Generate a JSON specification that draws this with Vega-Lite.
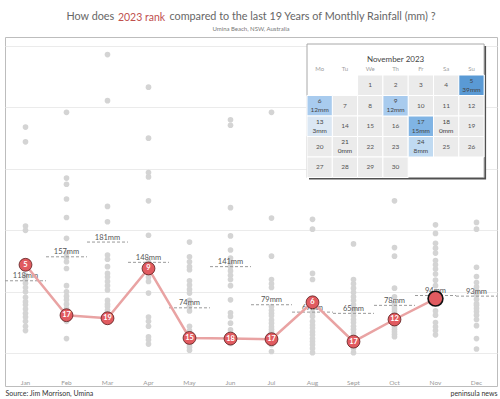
{
  "$schema": "https://vega.github.io/schema/vega-lite/v6.json",
  "autosize": {"type": "none"},
  "width": 492,
  "height": 349,
  "padding": {"left": 5, "top": 37, "right": 3, "bottom": 13},
  "background": "white",
  "config": {"font": "Lato", "view": {"stroke": "#bdbdbd", "strokeWidth": 1}},
  "title": {
    "text": "How does\u00a0\u00a0\u00a0\u00a0\u00a0\u00a0\u00a0\u00a0\u00a0\u00a0\u00a0\u00a0\u00a0\u00a0\u00a0\u00a0\u00a0\u00a0\u00a0\u00a0compared to the last 19 Years of Monthly Rainfall (mm) ?",
    "subtitle": "Umina Beach, NSW, Australia",
    "anchor": "middle",
    "fontSize": 10.8,
    "fontWeight": "normal",
    "color": "#666666",
    "subtitleFontSize": 6,
    "subtitleColor": "#777777",
    "subtitlePadding": 4,
    "offset": -20
  },
  "datasets": {
    "history": [
      {"m": "Jan", "mm": 368}, {"m": "Jan", "mm": 344}, {"m": "Jan", "mm": 207}, {"m": "Jan", "mm": 200}, {"m": "Jan", "mm": 127}, {"m": "Jan", "mm": 120}, {"m": "Jan", "mm": 114}, {"m": "Jan", "mm": 107}, {"m": "Jan", "mm": 100}, {"m": "Jan", "mm": 91}, {"m": "Jan", "mm": 84}, {"m": "Jan", "mm": 79}, {"m": "Jan", "mm": 72}, {"m": "Jan", "mm": 65}, {"m": "Jan", "mm": 59}, {"m": "Jan", "mm": 52}, {"m": "Jan", "mm": 44}, {"m": "Jan", "mm": 37},
      {"m": "Feb", "mm": 392}, {"m": "Feb", "mm": 285}, {"m": "Feb", "mm": 275}, {"m": "Feb", "mm": 251}, {"m": "Feb", "mm": 221}, {"m": "Feb", "mm": 187}, {"m": "Feb", "mm": 163}, {"m": "Feb", "mm": 156}, {"m": "Feb", "mm": 149}, {"m": "Feb", "mm": 138}, {"m": "Feb", "mm": 110}, {"m": "Feb", "mm": 100}, {"m": "Feb", "mm": 93}, {"m": "Feb", "mm": 87}, {"m": "Feb", "mm": 80}, {"m": "Feb", "mm": 73}, {"m": "Feb", "mm": 52}, {"m": "Feb", "mm": 24},
      {"m": "Mar", "mm": 486}, {"m": "Mar", "mm": 411}, {"m": "Mar", "mm": 239}, {"m": "Mar", "mm": 214}, {"m": "Mar", "mm": 160}, {"m": "Mar", "mm": 153}, {"m": "Mar", "mm": 141}, {"m": "Mar", "mm": 130}, {"m": "Mar", "mm": 124}, {"m": "Mar", "mm": 117}, {"m": "Mar", "mm": 110}, {"m": "Mar", "mm": 103}, {"m": "Mar", "mm": 86}, {"m": "Mar", "mm": 80}, {"m": "Mar", "mm": 76}, {"m": "Mar", "mm": 70}, {"m": "Mar", "mm": 66}, {"m": "Mar", "mm": 62},
      {"m": "Apr", "mm": 433}, {"m": "Apr", "mm": 350}, {"m": "Apr", "mm": 294}, {"m": "Apr", "mm": 287}, {"m": "Apr", "mm": 248}, {"m": "Apr", "mm": 192}, {"m": "Apr", "mm": 149}, {"m": "Apr", "mm": 144}, {"m": "Apr", "mm": 130}, {"m": "Apr", "mm": 124}, {"m": "Apr", "mm": 117}, {"m": "Apr", "mm": 98}, {"m": "Apr", "mm": 59}, {"m": "Apr", "mm": 52}, {"m": "Apr", "mm": 44}, {"m": "Apr", "mm": 27}, {"m": "Apr", "mm": 22}, {"m": "Apr", "mm": 15},
      {"m": "May", "mm": 181}, {"m": "May", "mm": 157}, {"m": "May", "mm": 149}, {"m": "May", "mm": 141}, {"m": "May", "mm": 136}, {"m": "May", "mm": 118}, {"m": "May", "mm": 111}, {"m": "May", "mm": 104}, {"m": "May", "mm": 98}, {"m": "May", "mm": 86}, {"m": "May", "mm": 76}, {"m": "May", "mm": 69}, {"m": "May", "mm": 44}, {"m": "May", "mm": 37}, {"m": "May", "mm": 19}, {"m": "May", "mm": 14}, {"m": "May", "mm": 10}, {"m": "May", "mm": 5},
      {"m": "Jun", "mm": 380}, {"m": "Jun", "mm": 371}, {"m": "Jun", "mm": 237}, {"m": "Jun", "mm": 191}, {"m": "Jun", "mm": 168}, {"m": "Jun", "mm": 155}, {"m": "Jun", "mm": 147}, {"m": "Jun", "mm": 141}, {"m": "Jun", "mm": 134}, {"m": "Jun", "mm": 127}, {"m": "Jun", "mm": 120}, {"m": "Jun", "mm": 110}, {"m": "Jun", "mm": 87}, {"m": "Jun", "mm": 66}, {"m": "Jun", "mm": 60}, {"m": "Jun", "mm": 49}, {"m": "Jun", "mm": 38}, {"m": "Jun", "mm": 16},
      {"m": "Jul", "mm": 392}, {"m": "Jul", "mm": 220}, {"m": "Jul", "mm": 158}, {"m": "Jul", "mm": 120}, {"m": "Jul", "mm": 113}, {"m": "Jul", "mm": 107}, {"m": "Jul", "mm": 76}, {"m": "Jul", "mm": 70}, {"m": "Jul", "mm": 65}, {"m": "Jul", "mm": 61}, {"m": "Jul", "mm": 54}, {"m": "Jul", "mm": 49}, {"m": "Jul", "mm": 43}, {"m": "Jul", "mm": 39}, {"m": "Jul", "mm": 35}, {"m": "Jul", "mm": 33}, {"m": "Jul", "mm": 14}, {"m": "Jul", "mm": 3},
      {"m": "Aug", "mm": 320}, {"m": "Aug", "mm": 218}, {"m": "Aug", "mm": 202}, {"m": "Aug", "mm": 130}, {"m": "Aug", "mm": 120}, {"m": "Aug", "mm": 73}, {"m": "Aug", "mm": 66}, {"m": "Aug", "mm": 60}, {"m": "Aug", "mm": 52}, {"m": "Aug", "mm": 46}, {"m": "Aug", "mm": 41}, {"m": "Aug", "mm": 35}, {"m": "Aug", "mm": 30}, {"m": "Aug", "mm": 24}, {"m": "Aug", "mm": 19}, {"m": "Aug", "mm": 14}, {"m": "Aug", "mm": 8}, {"m": "Aug", "mm": 1},
      {"m": "Sept", "mm": 178}, {"m": "Sept", "mm": 120}, {"m": "Sept", "mm": 113}, {"m": "Sept", "mm": 106}, {"m": "Sept", "mm": 99}, {"m": "Sept", "mm": 92}, {"m": "Sept", "mm": 86}, {"m": "Sept", "mm": 79}, {"m": "Sept", "mm": 72}, {"m": "Sept", "mm": 66}, {"m": "Sept", "mm": 61}, {"m": "Sept", "mm": 55}, {"m": "Sept", "mm": 50}, {"m": "Sept", "mm": 44}, {"m": "Sept", "mm": 39}, {"m": "Sept", "mm": 33}, {"m": "Sept", "mm": 8}, {"m": "Sept", "mm": 1},
      {"m": "Oct", "mm": 248}, {"m": "Oct", "mm": 172}, {"m": "Oct", "mm": 158}, {"m": "Oct", "mm": 106}, {"m": "Oct", "mm": 92}, {"m": "Oct", "mm": 81}, {"m": "Oct", "mm": 76}, {"m": "Oct", "mm": 72}, {"m": "Oct", "mm": 68}, {"m": "Oct", "mm": 64}, {"m": "Oct", "mm": 61}, {"m": "Oct", "mm": 52}, {"m": "Oct", "mm": 48}, {"m": "Oct", "mm": 43}, {"m": "Oct", "mm": 39}, {"m": "Oct", "mm": 35}, {"m": "Oct", "mm": 31}, {"m": "Oct", "mm": 27},
      {"m": "Nov", "mm": 209}, {"m": "Nov", "mm": 195}, {"m": "Nov", "mm": 179}, {"m": "Nov", "mm": 171}, {"m": "Nov", "mm": 163}, {"m": "Nov", "mm": 151}, {"m": "Nov", "mm": 144}, {"m": "Nov", "mm": 137}, {"m": "Nov", "mm": 129}, {"m": "Nov", "mm": 119}, {"m": "Nov", "mm": 110}, {"m": "Nov", "mm": 81}, {"m": "Nov", "mm": 69}, {"m": "Nov", "mm": 62}, {"m": "Nov", "mm": 50}, {"m": "Nov", "mm": 43}, {"m": "Nov", "mm": 37}, {"m": "Nov", "mm": 30},
      {"m": "Dec", "mm": 213}, {"m": "Dec", "mm": 202}, {"m": "Dec", "mm": 140}, {"m": "Dec", "mm": 125}, {"m": "Dec", "mm": 115}, {"m": "Dec", "mm": 108}, {"m": "Dec", "mm": 102}, {"m": "Dec", "mm": 95}, {"m": "Dec", "mm": 88}, {"m": "Dec", "mm": 81}, {"m": "Dec", "mm": 78}, {"m": "Dec", "mm": 73}, {"m": "Dec", "mm": 68}, {"m": "Dec", "mm": 62}, {"m": "Dec", "mm": 55}, {"m": "Dec", "mm": 45}, {"m": "Dec", "mm": 24}, {"m": "Dec", "mm": 7}
    ],
    "y2023": [
      {"m": "Jan", "mm": 144, "rank": 5, "partial": false},
      {"m": "Feb", "mm": 62, "rank": 17, "partial": false},
      {"m": "Mar", "mm": 57, "rank": 19, "partial": false},
      {"m": "Apr", "mm": 138, "rank": 9, "partial": false},
      {"m": "May", "mm": 25, "rank": 15, "partial": false},
      {"m": "Jun", "mm": 24, "rank": 18, "partial": false},
      {"m": "Jul", "mm": 23, "rank": 17, "partial": false},
      {"m": "Aug", "mm": 83, "rank": 6, "partial": false},
      {"m": "Sept", "mm": 19, "rank": 17, "partial": false},
      {"m": "Oct", "mm": 55, "rank": 12, "partial": false},
      {"m": "Nov", "mm": 89, "rank": null, "partial": true}
    ],
    "avg": [
      {"m": "Jan", "avg": 118, "label": "118mm"},
      {"m": "Feb", "avg": 157, "label": "157mm"},
      {"m": "Mar", "avg": 181, "label": "181mm"},
      {"m": "Apr", "avg": 148, "label": "148mm"},
      {"m": "May", "avg": 74, "label": "74mm"},
      {"m": "Jun", "avg": 141, "label": "141mm"},
      {"m": "Jul", "avg": 79, "label": "79mm"},
      {"m": "Aug", "avg": 67, "label": "67mm"},
      {"m": "Sept", "avg": 65, "label": "65mm"},
      {"m": "Oct", "avg": 78, "label": "78mm"},
      {"m": "Nov", "avg": 94, "label": "94mm"},
      {"m": "Dec", "avg": 93, "label": "93mm"}
    ],
    "calendar": [
      {"day": 1, "col": 2, "row": 0}, {"day": 2, "col": 3, "row": 0}, {"day": 3, "col": 4, "row": 0}, {"day": 4, "col": 5, "row": 0}, {"day": 5, "col": 6, "row": 0, "mm": 39},
      {"day": 6, "col": 0, "row": 1, "mm": 12}, {"day": 7, "col": 1, "row": 1}, {"day": 8, "col": 2, "row": 1}, {"day": 9, "col": 3, "row": 1, "mm": 12}, {"day": 10, "col": 4, "row": 1}, {"day": 11, "col": 5, "row": 1}, {"day": 12, "col": 6, "row": 1},
      {"day": 13, "col": 0, "row": 2, "mm": 3}, {"day": 14, "col": 1, "row": 2}, {"day": 15, "col": 2, "row": 2}, {"day": 16, "col": 3, "row": 2}, {"day": 17, "col": 4, "row": 2, "mm": 15}, {"day": 18, "col": 5, "row": 2, "mm": 0}, {"day": 19, "col": 6, "row": 2},
      {"day": 20, "col": 0, "row": 3}, {"day": 21, "col": 1, "row": 3, "mm": 0}, {"day": 22, "col": 2, "row": 3}, {"day": 23, "col": 3, "row": 3}, {"day": 24, "col": 4, "row": 3, "mm": 8}, {"day": 25, "col": 5, "row": 3}, {"day": 26, "col": 6, "row": 3},
      {"day": 27, "col": 0, "row": 4}, {"day": 28, "col": 1, "row": 4}, {"day": 29, "col": 2, "row": 4}, {"day": 30, "col": 3, "row": 4}
    ],
    "weekdays": [
      {"wd": "Mo", "col": 0}, {"wd": "Tu", "col": 1}, {"wd": "We", "col": 2}, {"wd": "Th", "col": 3}, {"wd": "Fr", "col": 4}, {"wd": "Sa", "col": 5}, {"wd": "Su", "col": 6}
    ]
  },
  "layer": [
    {
      "layer": [
        {
          "data": {"name": "history"},
          "mark": {"type": "circle", "size": 32, "color": "#d4d4d4", "opacity": 1},
          "encoding": {
            "x": {
              "field": "m", "type": "nominal",
              "scale": {"domain": ["Jan", "Feb", "Mar", "Apr", "May", "Jun", "Jul", "Aug", "Sept", "Oct", "Nov", "Dec"], "paddingInner": 0, "paddingOuter": 0},
              "axis": {
                "orient": "bottom", "title": "Source: Jim Morrison, Umina", "labelAngle": 0, "labelFontSize": 6.5, "labelColor": "#9a9a9a",
                "labelBaseline": "middle", "labelPadding": -4, "domain": false, "ticks": false, "grid": false,
                "titleAnchor": "start", "titleAlign": "left", "titleX": 0, "titleY": 7, "titleBaseline": "middle",
                "titleFontSize": 7, "titleFontWeight": "normal", "titleColor": "#333333"
              }
            },
            "y": {
              "field": "mm", "type": "quantitative",
              "scale": {"domain": [-53.2, 514.6], "nice": false, "zero": false},
              "axis": {"title": "2023 rank", "titleAngle": 0, "titleAlign": "center", "titleBaseline": "middle", "titleX": 136, "titleY": -20,
                "titleFontSize": 10.5, "titleFontWeight": "normal", "titleColor": "#c0504f",
                "labels": false, "ticks": false, "domain": false, "grid": true, "gridColor": "#ebebeb", "values": [0, 50, 100, 150, 200, 250, 300, 350, 400, 450, 500]}
            }
          }
        },
        {
          "data": {"name": "avg"},
          "mark": {"type": "rule", "strokeDash": [3, 2], "color": "#9a9a9a", "strokeWidth": 1},
          "encoding": {
            "x": {"field": "m", "type": "nominal", "bandPosition": 0},
            "x2": {"field": "m", "bandPosition": 1},
            "y": {"field": "avg", "type": "quantitative"}
          }
        },
        {
          "data": {"name": "avg"},
          "mark": {"type": "text", "fontSize": 7.5, "color": "#555555", "baseline": "bottom", "dy": -0.5},
          "encoding": {
            "x": {"field": "m", "type": "nominal"},
            "y": {"field": "avg", "type": "quantitative"},
            "text": {"field": "label"}
          }
        },
        {
          "data": {"name": "y2023"},
          "mark": {"type": "line", "color": "#e9a3a3", "strokeWidth": 2.5},
          "encoding": {
            "x": {"field": "m", "type": "nominal"},
            "y": {"field": "mm", "type": "quantitative"}
          }
        },
        {
          "data": {"name": "y2023"},
          "mark": {"type": "circle", "fill": "#e15b60", "opacity": 1},
          "encoding": {
            "x": {"field": "m", "type": "nominal"},
            "y": {"field": "mm", "type": "quantitative"},
            "size": {"condition": {"test": "datum.partial", "value": 220}, "value": 165},
            "stroke": {"condition": {"test": "datum.partial", "value": "#111111"}, "value": "#5a1d1d"},
            "strokeWidth": {"condition": {"test": "datum.partial", "value": 1.6}, "value": 0.8}
          }
        },
        {
          "data": {"name": "y2023"},
          "transform": [{"filter": "isValid(datum.rank)"}],
          "mark": {"type": "text", "fontSize": 7.5, "fontWeight": "bold", "color": "white", "baseline": "middle", "align": "center"},
          "encoding": {
            "x": {"field": "m", "type": "nominal"},
            "y": {"field": "mm", "type": "quantitative"},
            "text": {"field": "rank"}
          }
        }
      ]
    },
    {
      "layer": [
        {
          "data": {"name": "calendar"},
          "transform": [{"calculate": "datum.col + 1", "as": "col2"}, {"calculate": "datum.row + 1", "as": "row2"}],
          "mark": {"type": "rect", "fill": "#505050", "xOffset": 2, "x2Offset": 2, "yOffset": -29, "y2Offset": 2},
          "encoding": {
            "x": {"aggregate": "min", "field": "col", "type": "quantitative",
              "scale": {"domain": [-11.937, 7.51], "nice": false, "zero": false},
              "axis": {"orient": "bottom", "title": "peninsula news", "labels": false, "ticks": false, "domain": false, "grid": false,
                "titleAnchor": "end", "titleAlign": "right", "titleX": 492, "titleY": 7, "titleBaseline": "middle",
                "titleFontSize": 7, "titleFontWeight": "normal", "titleColor": "#333333"}},
            "x2": {"aggregate": "max", "field": "col2"},
            "y": {"aggregate": "min", "field": "row", "type": "quantitative",
              "scale": {"domain": [-1.854, 15.171], "nice": false, "zero": false, "reverse": true}, "axis": null},
            "y2": {"aggregate": "max", "field": "row2"}
          }
        },
        {
          "data": {"name": "calendar"},
          "transform": [{"calculate": "datum.col + 1", "as": "col2"}, {"calculate": "datum.row + 1", "as": "row2"}],
          "mark": {"type": "rect", "fill": "white", "stroke": "#a8a8a8", "strokeWidth": 1, "yOffset": -31},
          "encoding": {
            "x": {"aggregate": "min", "field": "col", "type": "quantitative"},
            "x2": {"aggregate": "max", "field": "col2"},
            "y": {"aggregate": "min", "field": "row", "type": "quantitative", "axis": null},
            "y2": {"aggregate": "max", "field": "row2"}
          }
        },
        {
          "data": {"name": "calendar"},
          "transform": [{"calculate": "datum.col + 1", "as": "col2"}, {"calculate": "datum.row + 1", "as": "row2"}],
          "mark": {"type": "rect", "fill": "#ebebeb", "stroke": "white", "strokeWidth": 1},
          "encoding": {
            "x": {"field": "col", "type": "quantitative"},
            "x2": {"field": "col2"},
            "y": {"field": "row", "type": "quantitative", "axis": null},
            "y2": {"field": "row2"}
          }
        },
        {
          "data": {"name": "calendar"},
          "transform": [{"filter": "datum.mm > 0"}, {"calculate": "datum.col + 1", "as": "col2"}, {"calculate": "datum.row + 1", "as": "row2"}],
          "mark": {"type": "rect", "stroke": "white", "strokeWidth": 1},
          "encoding": {
            "x": {"field": "col", "type": "quantitative"},
            "x2": {"field": "col2"},
            "y": {"field": "row", "type": "quantitative", "axis": null},
            "y2": {"field": "row2"},
            "fill": {"field": "mm", "type": "quantitative", "legend": null,
              "scale": {"domain": [0, 3, 8, 12, 15, 39], "range": ["#eef1f5", "#dbe7f3", "#c0daf1", "#a8cbee", "#80b4e4", "#5a9ad5"]}}
          }
        },
        {
          "data": {"name": "calendar"},
          "transform": [{"filter": "!isValid(datum.mm)"}, {"calculate": "datum.col + 0.5", "as": "cx"}, {"calculate": "datum.row + 0.5", "as": "cy"}],
          "mark": {"type": "text", "fontSize": 6.5, "color": "#555555", "baseline": "middle", "align": "center"},
          "encoding": {
            "x": {"field": "cx", "type": "quantitative"},
            "y": {"field": "cy", "type": "quantitative", "axis": null},
            "text": {"field": "day"}
          }
        },
        {
          "data": {"name": "calendar"},
          "transform": [{"filter": "isValid(datum.mm)"}, {"calculate": "datum.col + 0.5", "as": "cx"}, {"calculate": "datum.row + 0.5", "as": "cy"}],
          "mark": {"type": "text", "fontSize": 6.5, "color": "#444444", "baseline": "middle", "align": "center", "dy": -4.5},
          "encoding": {
            "x": {"field": "cx", "type": "quantitative"},
            "y": {"field": "cy", "type": "quantitative", "axis": null},
            "text": {"field": "day"}
          }
        },
        {
          "data": {"name": "calendar"},
          "transform": [{"filter": "isValid(datum.mm)"}, {"calculate": "datum.col + 0.5", "as": "cx"}, {"calculate": "datum.row + 0.5", "as": "cy"}, {"calculate": "datum.mm + 'mm'", "as": "mmText"}],
          "mark": {"type": "text", "fontSize": 6.5, "color": "#444444", "baseline": "middle", "align": "center", "dy": 4.5},
          "encoding": {
            "x": {"field": "cx", "type": "quantitative"},
            "y": {"field": "cy", "type": "quantitative", "axis": null},
            "text": {"field": "mmText"}
          }
        },
        {
          "data": {"name": "weekdays"},
          "transform": [{"calculate": "datum.col + 0.5", "as": "cx"}],
          "mark": {"type": "text", "fontSize": 6, "color": "#a0a0a0", "baseline": "middle", "align": "center"},
          "encoding": {
            "x": {"field": "cx", "type": "quantitative"},
            "y": {"datum": -0.27, "type": "quantitative", "axis": null},
            "text": {"field": "wd"}
          }
        },
        {
          "data": {"values": [{"t": "November 2023"}]},
          "mark": {"type": "text", "fontSize": 8, "color": "#444444", "baseline": "middle", "align": "center"},
          "encoding": {
            "x": {"datum": 3.5, "type": "quantitative"},
            "y": {"datum": -0.73, "type": "quantitative", "axis": null},
            "text": {"field": "t"}
          }
        }
      ]
    }
  ],
  "resolve": {"scale": {"x": "independent", "y": "independent", "fill": "independent"}, "axis": {"x": "independent", "y": "independent"}}
}
